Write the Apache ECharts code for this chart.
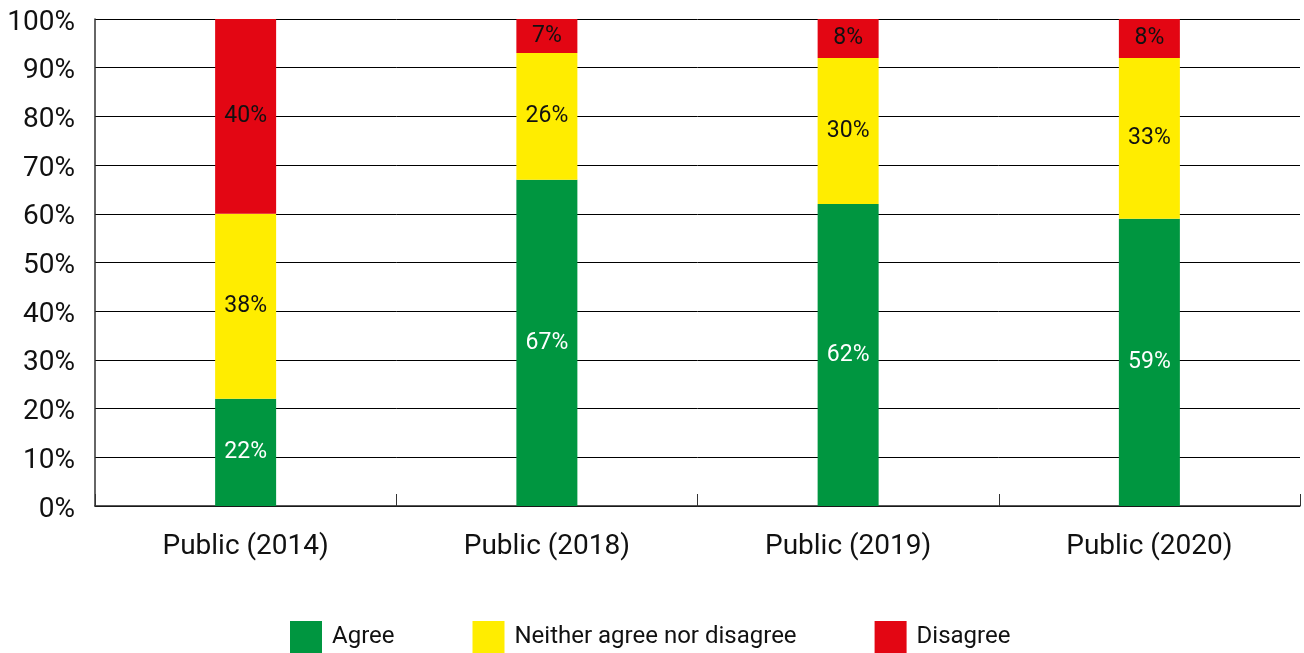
<!DOCTYPE html>
<html>
<head>
<meta charset="utf-8">
<script src="https://cdn.jsdelivr.net/npm/echarts@6/dist/echarts.min.js"></script>
<style>
  html, body { margin: 0; padding: 0; background: #ffffff; }
  #chart { width: 1304px; height: 653px; }
</style>
</head>
<body>
<div id="chart"></div>
<script>
// Survey groups along the x axis
const categories = ['Public (2014)', 'Public (2018)', 'Public (2019)', 'Public (2020)'];

// Share of responses per group, in percent
const agree = [22, 67, 62, 59];
const neither = [38, 26, 30, 33];
const disagree = [40, 7, 8, 8];

const seriesNames = ['Agree', 'Neither agree nor disagree', 'Disagree'];
const yTicks = { min: 0, max: 100, interval: 10 };

const FONT = 'Roboto, "Noto Sans", sans-serif';

function barSeries(name, data, color, labelColor) {
  return {
    name: name,
    type: 'bar',
    stack: 'total',
    data: data,
    barWidth: 61,
    itemStyle: { color: color },
    label: {
      show: true,
      position: 'inside',
      formatter: '{c}%',
      color: labelColor,
      fontFamily: FONT,
      fontSize: 23
    },
    emphasis: { disabled: true }
  };
}

const chart = echarts.init(document.getElementById('chart'), null, { renderer: 'canvas' });

chart.setOption({
  animation: false,
  backgroundColor: '#ffffff',
  grid: { left: 95, right: 4, top: 19, bottom: 147, containLabel: false },
  legend: {
    data: seriesNames,
    left: 285,
    top: 616,
    itemWidth: 32,
    itemHeight: 32,
    itemGap: 78,
    icon: 'rect',
    textStyle: { fontFamily: FONT, fontSize: 24, color: '#111111', padding: [6, 0, 0, 5] },
    selectedMode: false
  },
  xAxis: {
    type: 'category',
    data: categories,
    axisLine: { show: true, lineStyle: { color: '#222222', width: 1.5 } },
    axisTick: { show: true, inside: true, length: 12, lineStyle: { color: '#333333', width: 1 } },
    axisLabel: { fontFamily: FONT, fontSize: 28, color: '#111111', margin: 27 }
  },
  yAxis: {
    type: 'value',
    min: yTicks.min,
    max: yTicks.max,
    interval: yTicks.interval,
    axisLine: { show: true, lineStyle: { color: '#333333', width: 1.5 } },
    axisTick: { show: false },
    axisLabel: {
      formatter: '{t|{value}%}',
      margin: 20,
      rich: {
        t: { fontFamily: FONT, fontSize: 28, color: '#111111', padding: [7, 0, 0, 0] }
      }
    },
    splitLine: { show: true, lineStyle: { color: '#000000', width: 1 } }
  },
  series: [
    barSeries(seriesNames[0], agree, '#009640', '#ffffff'),
    barSeries(seriesNames[1], neither, '#FFED00', '#111111'),
    barSeries(seriesNames[2], disagree, '#E30613', '#111111')
  ]
});
</script>
</body>
</html>
